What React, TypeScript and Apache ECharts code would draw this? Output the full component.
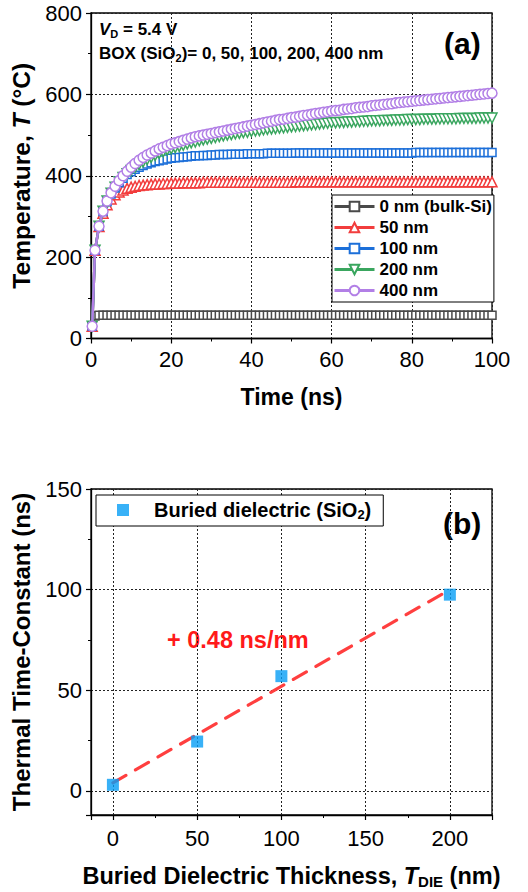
import React, { useEffect, useRef } from 'react';
import * as echarts from 'echarts';

const FONT = '"Liberation Sans", Arial, Helvetica, sans-serif';

// ---------- (a) transient temperature ----------
const timeNs = [
  0.3,
  1, 2, 3, 4, 5, 6, 7, 8, 9, 10,
  11, 12, 13, 14, 15, 16, 17, 18, 19, 20,
  21, 22, 23, 24, 25, 26, 27, 28, 29, 30,
  31, 32, 33, 34, 35, 36, 37, 38, 39, 40,
  41, 42, 43, 44, 45, 46, 47, 48, 49, 50,
  51, 52, 53, 54, 55, 56, 57, 58, 59, 60,
  61, 62, 63, 64, 65, 66, 67, 68, 69, 70,
  71, 72, 73, 74, 75, 76, 77, 78, 79, 80,
  81, 82, 83, 84, 85, 86, 87, 88, 89, 90,
  91, 92, 93, 94, 95, 96, 97, 98, 99, 100,
];

const temp0nm = [
  30,
  55, 57, 57, 57, 57, 57, 57, 57, 57, 57,
  57, 57, 57, 57, 57, 57, 57, 57, 57, 57,
  57, 57, 57, 57, 57, 57, 57, 57, 57, 57,
  57, 57, 57, 57, 57, 57, 57, 57, 57, 57,
  57, 57, 57, 57, 57, 57, 57, 57, 57, 57,
  57, 57, 57, 57, 57, 57, 57, 57, 57, 57,
  57, 57, 57, 57, 57, 57, 57, 57, 57, 57,
  57, 57, 57, 57, 57, 57, 57, 57, 57, 57,
  57, 57, 57, 57, 57, 57, 57, 57, 57, 57,
  57, 57, 57, 57, 57, 57, 57, 57, 57, 57,
];

const temp50nm = [
  30,
  217, 275, 308, 329, 343, 353, 360, 365, 369, 372,
  374, 376, 377, 378, 379, 380, 380, 381, 381, 382,
  382, 382, 383, 383, 383, 383, 383, 384, 384, 384,
  384, 384, 384, 384, 384, 384, 384, 384, 384, 384,
  384, 384, 384, 384, 384, 384, 384, 384, 384, 384,
  385, 385, 385, 385, 385, 385, 385, 385, 385, 385,
  385, 385, 385, 385, 385, 385, 385, 385, 385, 385,
  385, 385, 385, 385, 385, 385, 385, 385, 385, 385,
  385, 385, 385, 385, 385, 385, 385, 385, 385, 385,
  385, 385, 385, 385, 385, 385, 385, 385, 385, 385,
];

const temp100nm = [
  30,
  217, 276, 312, 336, 355, 370, 383, 394, 403, 410,
  416, 421, 425, 429, 432, 435, 437, 439, 441, 443,
  444, 445, 446, 447, 448, 449, 449, 450, 450, 451,
  451, 452, 452, 452, 453, 453, 453, 453, 454, 454,
  454, 454, 454, 455, 455, 455, 455, 455, 455, 455,
  456, 456, 456, 456, 456, 456, 456, 456, 456, 456,
  456, 456, 456, 456, 456, 456, 456, 456, 456, 456,
  456, 456, 456, 456, 456, 456, 456, 456, 456, 456,
  457, 457, 457, 457, 457, 457, 457, 457, 457, 457,
  457, 457, 457, 457, 457, 457, 457, 457, 457, 457,
];

const temp200nm = [
  30,
  217, 276, 313, 338, 357, 372, 385, 396, 405, 413,
  421, 428, 434, 440, 445, 450, 455, 459, 463, 466,
  469, 472, 475, 478, 481, 483, 486, 488, 490, 492,
  494, 496, 498, 500, 501, 503, 504, 506, 507, 509,
  510, 511, 513, 514, 515, 516, 517, 518, 519, 520,
  521, 522, 523, 524, 525, 526, 527, 528, 529, 530,
  530, 531, 531, 532, 532, 533, 533, 534, 534, 535,
  535, 535, 536, 536, 536, 537, 537, 537, 538, 538,
  538, 538, 539, 539, 539, 539, 540, 540, 540, 540,
  540, 541, 541, 541, 541, 541, 542, 542, 542, 542,
];

const temp400nm = [
  30,
  217, 276, 313, 338, 358, 374, 388, 400, 411, 421,
  430, 438, 445, 451, 456, 461, 466, 470, 474, 478,
  481, 484, 487, 490, 493, 496, 498, 500, 502, 504,
  506, 508, 510, 512, 514, 516, 518, 520, 522, 524,
  526, 528, 530, 532, 534, 536, 538, 539, 541, 543,
  544, 546, 548, 549, 551, 553, 554, 556, 557, 559,
  560, 561, 563, 564, 565, 567, 568, 569, 570, 572,
  573, 574, 575, 576, 577, 579, 580, 581, 582, 583,
  584, 585, 586, 587, 588, 589, 590, 591, 592, 593,
  594, 595, 596, 597, 598, 599, 600, 601, 602, 603,
];

const seriesNames = ['0 nm (bulk-Si)', '50 nm', '100 nm', '200 nm', '400 nm'];
const seriesColors = ['#4a4a4a', '#f23d3d', '#1c6fd9', '#3aa65f', '#b27fe6'];
const seriesSymbols = ['rect', 'triangle', 'rect', 'triangle', 'circle'];
const seriesSymbolRotate = [0, 0, 0, 180, 0];
const seriesSymbolSize = [8, 10, 8, 10, 10];
const seriesValues = [temp0nm, temp50nm, temp100nm, temp200nm, temp400nm];

// ---------- (b) thermal time-constant ----------
const boxThickness = [0, 50, 100, 200];
const timeConstant = [3, 24.5, 57, 97.5];
const fitThickness = [0, 200];
const fitTimeConstant = [4, 100];

const axisLineStyle = { show: true, onZero: false, lineStyle: { color: '#000', width: 1.3 } };
const axisTickStyle = { show: true, inside: false, length: 5, lineStyle: { color: '#000', width: 1.2 } };
const minorTickStyle = { show: true, splitNumber: 2, length: 3, lineStyle: { color: '#000', width: 1 } };
const splitLineStyle = { show: true, lineStyle: { color: '#222', type: [2, 2], width: 1 } };
const labelStyle = { color: '#000', fontSize: 22, fontFamily: FONT };

export default function App() {
  const ref = useRef<HTMLDivElement>(null);

  useEffect(() => {
    const chart = echarts.init(ref.current!, null, { renderer: 'svg' });

    const lineSeries = seriesNames.map((name, k) => ({
      name,
      type: 'line',
      xAxisIndex: 0,
      yAxisIndex: 0,
      data: timeNs.map((t, i) => [t, seriesValues[k][i]]),
      symbol: seriesSymbols[k],
      symbolRotate: seriesSymbolRotate[k],
      symbolSize: seriesSymbolSize[k],
      showAllSymbol: true,
      lineStyle: { color: seriesColors[k], width: 2.5 },
      itemStyle: { color: '#fff', borderColor: seriesColors[k], borderWidth: 1.5 },
      z: 2 + k,
    }));

    chart.setOption({
      animation: false,
      backgroundColor: '#fff',
      textStyle: { fontFamily: FONT },
      grid: [
        { left: 91, top: 13, width: 401, height: 325.5, show: true, borderColor: '#000', borderWidth: 1.3, backgroundColor: 'transparent' },
        { left: 91, top: 489, width: 401, height: 326, show: true, borderColor: '#000', borderWidth: 1.3, backgroundColor: 'transparent' },
      ],
      xAxis: [
        {
          gridIndex: 0,
          type: 'value',
          min: 0,
          max: 100,
          interval: 20,
          axisLine: axisLineStyle,
          axisTick: axisTickStyle,
          minorTick: minorTickStyle,
          splitLine: splitLineStyle,
          axisLabel: { ...labelStyle, margin: 10 },
          name: 'Time (ns)',
          nameLocation: 'middle',
          nameGap: 47,
          nameTextStyle: { color: '#000', fontSize: 23, fontWeight: 'bold', fontFamily: FONT },
        },
        {
          gridIndex: 1,
          type: 'value',
          min: -13,
          max: 225,
          splitNumber: 5,
          axisLine: axisLineStyle,
          axisTick: axisTickStyle,
          minorTick: minorTickStyle,
          splitLine: splitLineStyle,
          axisLabel: { ...labelStyle, margin: 12, showMinLabel: false, showMaxLabel: false },
          name: '{b|Buried Dielectric Thickness, }{i|T}{s|DIE}{b| (nm)}',
          nameLocation: 'middle',
          nameGap: 48,
          nameTextStyle: {
            color: '#000',
            fontFamily: FONT,
            rich: {
              b: { fontSize: 23.5, fontWeight: 'bold', color: '#000', fontFamily: FONT, lineHeight: 26 },
              i: { fontSize: 23.5, fontWeight: 'bold', fontStyle: 'italic', color: '#000', fontFamily: FONT, lineHeight: 26 },
              s: { fontSize: 15, fontWeight: 'bold', color: '#000', fontFamily: FONT, lineHeight: 8, verticalAlign: 'bottom' },
            },
          },
        },
      ],
      yAxis: [
        {
          gridIndex: 0,
          type: 'value',
          min: 0,
          max: 800,
          interval: 200,
          axisLine: axisLineStyle,
          axisTick: axisTickStyle,
          minorTick: minorTickStyle,
          splitLine: splitLineStyle,
          axisLabel: { ...labelStyle, margin: 9 },
          name: '{b|Temperature, }{i|T}{b| (°C)}',
          nameLocation: 'middle',
          nameGap: 57,
          nameTextStyle: {
            color: '#000',
            fontFamily: FONT,
            rich: {
              b: { fontSize: 24.5, fontWeight: 'bold', color: '#000', fontFamily: FONT },
              i: { fontSize: 24.5, fontWeight: 'bold', fontStyle: 'italic', color: '#000', fontFamily: FONT },
            },
          },
        },
        {
          gridIndex: 1,
          type: 'value',
          min: -12,
          max: 150,
          splitNumber: 4,
          axisLine: axisLineStyle,
          axisTick: axisTickStyle,
          minorTick: minorTickStyle,
          splitLine: splitLineStyle,
          axisLabel: { ...labelStyle, margin: 9, showMinLabel: false },
          name: 'Thermal Time-Constant (ns)',
          nameLocation: 'middle',
          nameGap: 58,
          nameTextStyle: { color: '#000', fontSize: 24, fontWeight: 'bold', fontFamily: FONT },
        },
      ],
      legend: [
        {
          data: seriesNames,
          orient: 'vertical',
          left: 332,
          top: 195,
          itemWidth: 40,
          itemHeight: 12,
          itemGap: 4,
          padding: [3, 2, 3, 1],
          borderColor: '#000',
          borderWidth: 1,
          borderRadius: 0,
          backgroundColor: '#fff',
          lineStyle: { width: 3 },
          textStyle: { color: '#000', fontSize: 17, fontWeight: 'bold', fontFamily: FONT },
        },
        {
          data: ['Buried dielectric'],
          left: 96,
          top: 495,
          icon: 'rect',
          itemWidth: 12,
          itemHeight: 12,
          padding: [5, 12, 5, 21],
          borderColor: '#000',
          borderWidth: 1,
          borderRadius: 0,
          backgroundColor: '#fff',
          formatter: () => '{sp|}{b|Buried dielectric (SiO}{s|2}{b|)}',
          textStyle: {
            color: '#000',
            fontFamily: FONT,
            rich: {
              sp: { width: 20 },
              b: { fontSize: 20, fontWeight: 'bold', color: '#000', fontFamily: FONT, lineHeight: 22 },
              s: { fontSize: 13, fontWeight: 'bold', color: '#000', fontFamily: FONT, lineHeight: 6, verticalAlign: 'bottom' },
            },
          },
        },
      ],
      series: [
        ...lineSeries,
        {
          name: 'fit',
          type: 'line',
          xAxisIndex: 1,
          yAxisIndex: 1,
          data: fitThickness.map((x, i) => [x, fitTimeConstant[i]]),
          symbol: 'none',
          lineStyle: { color: '#ff3f3f', width: 3.2, type: [15, 11], cap: 'round' },
          z: 2,
        },
        {
          name: 'Buried dielectric',
          type: 'scatter',
          xAxisIndex: 1,
          yAxisIndex: 1,
          data: boxThickness.map((x, i) => [x, timeConstant[i]]),
          symbol: 'rect',
          symbolSize: 12,
          itemStyle: { color: '#069ef5' },
          z: 3,
        },
      ],
      graphic: [
        {
          type: 'text',
          x: 99,
          y: 29,
          style: {
            text: '{i|V}{s|D}{b| = 5.4 V}',
            verticalAlign: 'middle',
            rich: {
              i: { fontSize: 17, fontWeight: 'bold', fontStyle: 'italic', fill: '#000', fontFamily: FONT, lineHeight: 20 },
              b: { fontSize: 17, fontWeight: 'bold', fill: '#000', fontFamily: FONT, lineHeight: 20 },
              s: { fontSize: 11, fontWeight: 'bold', fill: '#000', fontFamily: FONT, lineHeight: 7, verticalAlign: 'bottom' },
            },
          },
        },
        {
          type: 'text',
          x: 99,
          y: 53,
          style: {
            text: '{b|BOX (SiO}{s|2}{b|)= 0, 50, 100, 200, 400 nm}',
            verticalAlign: 'middle',
            rich: {
              b: { fontSize: 17, fontWeight: 'bold', fill: '#000', fontFamily: FONT, lineHeight: 20 },
              s: { fontSize: 11, fontWeight: 'bold', fill: '#000', fontFamily: FONT, lineHeight: 7, verticalAlign: 'bottom' },
            },
          },
        },
        {
          type: 'text',
          x: 444,
          y: 43,
          style: { text: '(a)', fill: '#000', fontSize: 30, fontWeight: 'bold', fontFamily: FONT, verticalAlign: 'middle' },
        },
        {
          type: 'text',
          x: 443,
          y: 523,
          style: { text: '(b)', fill: '#000', fontSize: 30, fontWeight: 'bold', fontFamily: FONT, verticalAlign: 'middle' },
        },
        {
          type: 'text',
          x: 167,
          y: 640,
          style: { text: '+ 0.48 ns/nm', fill: '#ff1a1a', fontSize: 23.5, fontWeight: 'bold', fontFamily: FONT, verticalAlign: 'middle' },
        },
      ],
    });

    return () => chart.dispose();
  }, []);

  return <div ref={ref} style={{ position: 'fixed', left: 0, top: 0, width: 528, height: 892 }} />;
}
